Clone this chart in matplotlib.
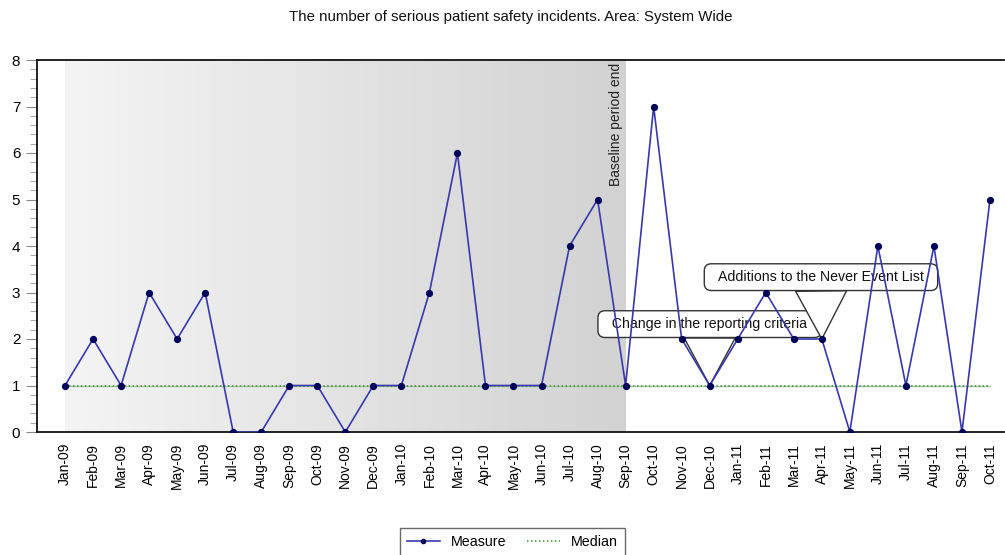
import numpy as np
import matplotlib
matplotlib.use("Agg")
import matplotlib.pyplot as plt
from matplotlib.ticker import MultipleLocator

plt.rcParams['font.family'] = ['Liberation Sans', 'DejaVu Sans']

months = ["Jan-09", "Feb-09", "Mar-09", "Apr-09", "May-09", "Jun-09", "Jul-09", "Aug-09",
          "Sep-09", "Oct-09", "Nov-09", "Dec-09", "Jan-10", "Feb-10", "Mar-10", "Apr-10",
          "May-10", "Jun-10", "Jul-10", "Aug-10", "Sep-10", "Oct-10", "Nov-10", "Dec-10",
          "Jan-11", "Feb-11", "Mar-11", "Apr-11", "May-11", "Jun-11", "Jul-11", "Aug-11",
          "Sep-11", "Oct-11"]
measure = [1, 2, 1, 3, 2, 3, 0, 0, 1, 1, 0, 1, 1, 3, 6, 1, 1, 1, 4, 5,
           1, 7, 2, 1, 2, 3, 2, 2, 0, 4, 1, 4, 0, 5]
median_value = 1
baseline_end = "Sep-10"
events = [("Change in the reporting criteria", "Dec-10"),
          ("Additions to the Never Event List", "Apr-11")]

x = np.arange(len(months))
base_idx = months.index(baseline_end)

fig = plt.figure(figsize=(10.05, 5.55), dpi=100)
ax = fig.add_axes([37 / 1005, 1 - 432 / 555, 967 / 1005, 372 / 555])

ax.set_xlim(-1, 33.5)
ax.set_ylim(0, 8)

# baseline period shading: horizontal grey gradient
grad = np.linspace(0, 1, 256).reshape(1, -1)
cmap = matplotlib.colors.LinearSegmentedColormap.from_list("base", ["#f4f4f4", "#d2d2d2"])
ax.imshow(grad, cmap=cmap, aspect='auto', extent=[0, base_idx, 0, 8], zorder=0,
          interpolation='bicubic')
ax.text(base_idx - 0.08, 7.93, "Baseline period end", rotation=90, ha='right', va='top',
        fontsize=10, color='#222222', zorder=2)

# median line
ax.plot(x, [median_value] * len(x), color='#a8c4a0', lw=1.0, zorder=2)
ax.plot(x, [median_value] * len(x), color='#3c8a3c', lw=1.1, ls=(0, (1, 1.6)), zorder=2,
        label='Median')

# measure line
ax.plot(x, measure, color='#3838aa', lw=1.2, marker='o', markersize=4.2,
        markerfacecolor='#00005a', markeredgecolor='#00005a', zorder=4, label='Measure')

# event callouts
offsets = {"Dec-10": (23.0, 2.32), "Apr-11": (26.97, 3.33)}
for label, month in events:
    i = months.index(month)
    ax.annotate("  " + label + "  ", xy=(i, measure[i]), xytext=offsets[month],
                textcoords='data', ha='center', va='center', fontsize=10.2,
                color='#111111', zorder=3,
                bbox=dict(boxstyle='round,pad=0.45,rounding_size=0.5', fc='white',
                          ec='#333333', lw=1.0),
                arrowprops=dict(arrowstyle='wedge,tail_width=3.6,shrink_factor=0.5',
                                fc='white', ec='#333333', lw=1.0, shrinkA=0, shrinkB=0))

# axes styling
for side in ['left', 'top', 'bottom']:
    ax.spines[side].set_linewidth(1.3)
    ax.spines[side].set_color('#111111')
ax.spines['right'].set_visible(False)

ax.set_xticks(x)
ax.set_xticklabels(months, rotation=90, fontsize=10)
ax.tick_params(axis='x', length=0, pad=8)
ax.yaxis.set_major_locator(MultipleLocator(1))
ax.yaxis.set_minor_locator(MultipleLocator(0.2))
ax.tick_params(axis='y', which='major', length=8, color='#888888', labelsize=11, pad=4)
ax.tick_params(axis='y', which='minor', length=5, color='#999999')

fig.text(0.508, 1 - 17 / 555, "The number of serious patient safety incidents. Area: System Wide",
         ha='center', va='center', fontsize=10.8, color='#111111')

handles, labels = ax.get_legend_handles_labels()
order = [labels.index('Measure'), labels.index('Median')]
leg = fig.legend([handles[k] for k in order], [labels[k] for k in order],
                 loc='upper center', bbox_to_anchor=(0.51, 1 - 521 / 555), ncol=2,
                 fontsize=10.3, frameon=True, fancybox=False, edgecolor='#444444',
                 handlelength=2.3, columnspacing=1.4, borderpad=0.5)
leg.get_frame().set_linewidth(1.0)
for h in leg.legend_handles:
    h.set_markersize(3)

fig.savefig("out.png", dpi=100)
